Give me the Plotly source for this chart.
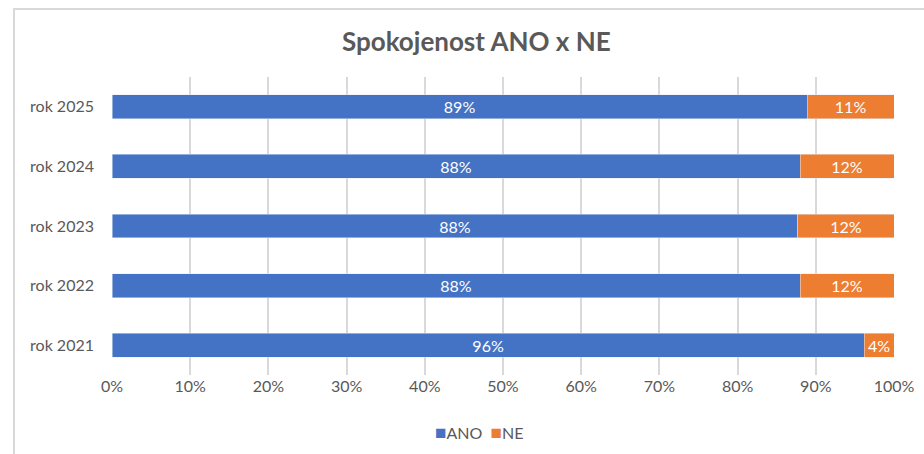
import plotly.graph_objects as go

# data
years = ['rok 2021', 'rok 2022', 'rok 2023', 'rok 2024', 'rok 2025']
ano = [96.2, 88.0, 87.7, 88.0, 88.9]
ne = [3.8, 12.0, 12.3, 12.0, 11.1]
ticks = [0, 10, 20, 30, 40, 50, 60, 70, 80, 90, 100]

FONT = 'Lato'
GREY = '#595959'
BLUE = '#4472C4'
ORANGE = '#ED7D31'

fig = go.Figure()
fig.add_trace(go.Bar(y=years, x=ano, name='ANO', orientation='h',
                     marker_color=BLUE, texttemplate='%{x:.0f}%',
                     textposition='inside', insidetextanchor='middle',
                     textfont=dict(color='white', size=16, family=FONT),
                     constraintext='none'))
fig.add_trace(go.Bar(y=years, x=ne, name='NE', orientation='h',
                     marker_color=ORANGE, texttemplate='%{x:.0f}%',
                     textposition='inside', insidetextanchor='middle',
                     textfont=dict(color='white', size=16, family=FONT),
                     constraintext='none'))

fig.update_layout(
    barmode='stack', bargap=0.6,
    width=924, height=454,
    margin=dict(l=112, r=30, t=77, b=79, autoexpand=False),
    paper_bgcolor='white', plot_bgcolor='white',
    font=dict(family=FONT, color=GREY, size=16),
    title=dict(text='<b>Spokojenost ANO x NE</b>', x=0.5155, xanchor='center',
               y=0.907, yanchor='middle', font=dict(size=26, color=GREY, family=FONT)),
    showlegend=False,
)
fig.update_xaxes(range=[0, 100], tickvals=ticks, ticktext=[f'{t}%' for t in ticks],
                 showgrid=True, gridcolor='#d9d9d9', gridwidth=1.5, zeroline=False,
                 showline=False, ticks='', automargin=False,
                 tickfont=dict(size=16, color=GREY))
fig.update_yaxes(categoryorder='array', categoryarray=years, showgrid=False,
                 ticks='', ticklabelstandoff=17, automargin=False,
                 tickfont=dict(size=16, color=GREY))

# compact Excel-style legend
fig.add_annotation(xref='paper', yref='paper', x=0.4705, y=-0.191, xanchor='center',
                   yanchor='middle', showarrow=False, font=dict(size=16, color=GREY),
                   text=f"<span style='color:{BLUE};font-size:19px'>■</span>ANO&nbsp;&nbsp;"
                        f"<span style='color:{ORANGE};font-size:19px'>■</span>NE")

# chart frame border like the Excel chart area
fig.add_shape(type='rect', xref='paper', yref='paper',
              x0=-98 / 782, x1=1.5, y0=-0.6, y1=1 + 68 / 298,
              line=dict(color='#d9d9d9', width=2), fillcolor='rgba(0,0,0,0)', layer='below')

# drop the default 8px body margin so the figure sits at the window's corner
fig.write_html('out.html', config={'displayModeBar': False},
               post_script="document.body.style.margin='0';")
